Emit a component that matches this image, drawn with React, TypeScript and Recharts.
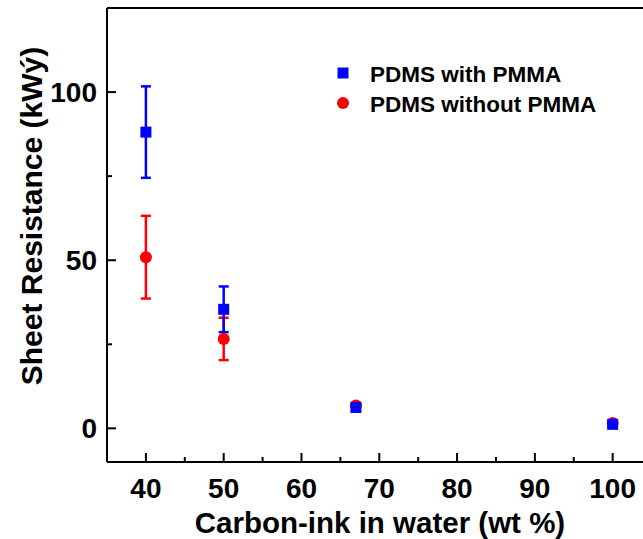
import { ScatterChart, Scatter, XAxis, YAxis, ErrorBar } from 'recharts';

// Carbon-ink content (wt %)
const inkContent = [40, 50, 67, 100];

// Sheet resistance values
const withPmma = [88.1, 35.4, 6.2, 1.2];
const withPmmaErr = [13.6, 6.8, 0.9, 0.6];
const withoutPmma = [50.9, 26.6, 6.8, 1.6];
const withoutPmmaErr = [12.3, 6.3, 0.6, 0.5];

const xTicks = [40, 45, 50, 55, 60, 65, 70, 75, 80, 85, 90, 95, 100];
const yTicks = [0, 25, 50, 75, 100];

const seriesNames = ['PDMS with PMMA', 'PDMS without PMMA'];
const BLUE = '#0000ff';
const RED = '#ff0000';
const FONT = "'Liberation Sans', Arial, sans-serif";

const withData = inkContent.map((x, i) => ({ x, y: withPmma[i], err: withPmmaErr[i] }));
const withoutData = inkContent.map((x, i) => ({ x, y: withoutPmma[i], err: withoutPmmaErr[i] }));

const BottomTick = ({ x, y, payload }: any) => {
  const v = payload.value;
  const major = v % 10 === 0;
  return (
    <g>
      <line x1={x} x2={x} y1={y} y2={y - (major ? 9 : 5)} stroke="#000" strokeWidth={2} />
      {major && (
        <text x={x} y={y + 36} textAnchor="middle" fontSize={28} fontWeight="bold" fontFamily={FONT} fill="#000">
          {v}
        </text>
      )}
    </g>
  );
};

const TopTick = ({ x, y, payload }: any) => {
  const major = payload.value % 10 === 0;
  return <line x1={x} x2={x} y1={y} y2={y + (major ? 9 : 5)} stroke="#000" strokeWidth={2} />;
};

const LeftTick = ({ x, y, payload }: any) => {
  const v = payload.value;
  const major = v % 50 === 0;
  return (
    <g>
      <line x1={x} x2={x + (major ? 9 : 5)} y1={y} y2={y} stroke="#000" strokeWidth={2} />
      {major && (
        <text x={x - 10} y={y + 10} textAnchor="end" fontSize={28} fontWeight="bold" fontFamily={FONT} fill="#000">
          {v}
        </text>
      )}
    </g>
  );
};

const SquareShape = ({ cx, cy }: any) => <rect x={cx - 5.5} y={cy - 5.5} width={11} height={11} fill={BLUE} />;
const CircleShape = ({ cx, cy }: any) => <circle cx={cx} cy={cy} r={6} fill={RED} />;

const App = () => {
  return (
    <div style={{ position: 'absolute', left: 0, top: 0, width: 643, height: 539, fontFamily: FONT }}>
      <ScatterChart width={643} height={539} margin={{ top: 0, right: 0, bottom: 0, left: 0 }}>
        <XAxis
          type="number"
          dataKey="x"
          domain={[35, 103.9]}
          ticks={xTicks}
          allowDataOverflow
          height={77}
          tickSize={0}
          tickMargin={0}
          tickLine={false}
          tick={<BottomTick />}
          axisLine={{ stroke: '#000', strokeWidth: 2 }}
        />
        <XAxis
          xAxisId="top"
          orientation="top"
          type="number"
          domain={[35, 103.9]}
          ticks={xTicks}
          allowDataOverflow
          height={8}
          tickSize={0}
          tickMargin={0}
          tickLine={false}
          tick={<TopTick />}
          axisLine={{ stroke: '#000', strokeWidth: 2 }}
        />
        <YAxis
          type="number"
          dataKey="y"
          domain={[-10, 125]}
          ticks={yTicks}
          allowDataOverflow
          width={107}
          tickSize={0}
          tickMargin={0}
          tickLine={false}
          tick={<LeftTick />}
          axisLine={{ stroke: '#000', strokeWidth: 2 }}
        />
        <Scatter name={seriesNames[1]} data={withoutData} fill={RED} shape={<CircleShape />} isAnimationActive={false}>
          <ErrorBar dataKey="err" direction="y" width={5} stroke={RED} strokeWidth={2.5} isAnimationActive={false} />
        </Scatter>
        <Scatter name={seriesNames[0]} data={withData} fill={BLUE} shape={<SquareShape />} isAnimationActive={false}>
          <ErrorBar dataKey="err" direction="y" width={5} stroke={BLUE} strokeWidth={2.5} isAnimationActive={false} />
        </Scatter>
        <text x={380} y={533} textAnchor="middle" fontSize={29.5} fontWeight="bold" fontFamily={FONT} fill="#000">
          Carbon-ink in water (wt %)
        </text>
        <text
          x={42}
          y={216}
          transform="rotate(-90 42 216)"
          textAnchor="middle"
          fontSize={30}
          fontWeight="bold"
          fontFamily={FONT}
          fill="#000"
        >
          Sheet Resistance (kWý)
        </text>
        <g fontFamily={FONT} fontWeight="bold" fontSize={22.5} fill="#000">
          <rect x={337.5} y={67.5} width={11} height={11} fill={BLUE} />
          <text x={370} y={82}>{seriesNames[0]}</text>
          <circle cx={343} cy={103} r={6} fill={RED} />
          <text x={370} y={112}>{seriesNames[1]}</text>
        </g>
      </ScatterChart>
    </div>
  );
};

export default App;
